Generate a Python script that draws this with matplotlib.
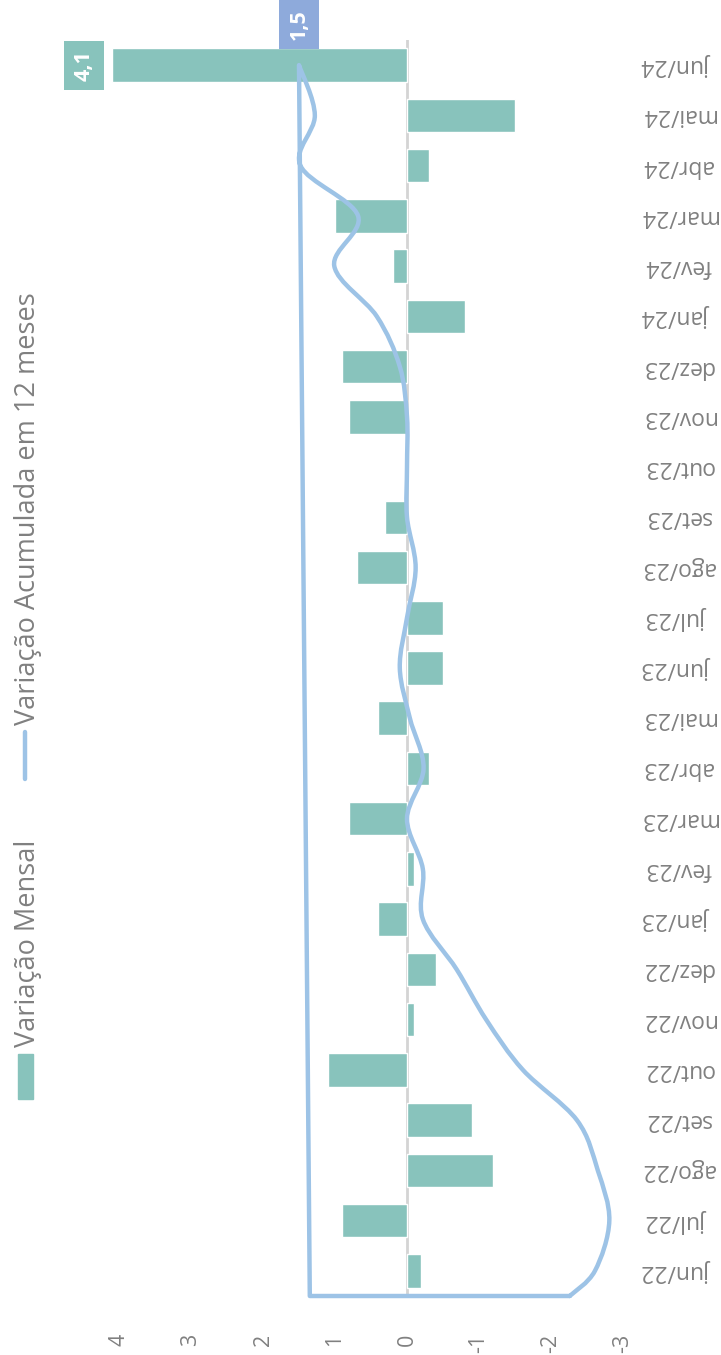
import matplotlib
matplotlib.use("Agg")
import matplotlib.pyplot as plt
import numpy as np
from matplotlib.path import Path
from matplotlib.patches import PathPatch, Rectangle
from matplotlib.lines import Line2D
import matplotlib.transforms as mtransforms

plt.rcParams['font.family'] = ['Open Sans', 'DejaVu Sans']

# dados
meses = ['jun/22', 'jul/22', 'ago/22', 'set/22', 'out/22', 'nov/22', 'dez/22',
         'jan/23', 'fev/23', 'mar/23', 'abr/23', 'mai/23', 'jun/23', 'jul/23',
         'ago/23', 'set/23', 'out/23', 'nov/23', 'dez/23', 'jan/24', 'fev/24',
         'mar/24', 'abr/24', 'mai/24', 'jun/24']
var_mensal = [-0.2, 0.9, -1.2, -0.9, 1.1, -0.1, -0.4, 0.4, -0.1, 0.8, -0.3, 0.4,
              -0.5, -0.5, 0.7, 0.3, 0.0, 0.8, 0.9, -0.8, 0.2, 1.0, -0.3, -1.5, 4.1]
var_acum = [-2.61, -2.81, -2.65, -2.36, -1.61, -1.10, -0.69, -0.22, -0.22, 0.00,
            -0.23, -0.04, 0.10, 0.00, -0.12, 0.00, 0.00, 0.00, 0.10, 0.42, 1.01,
            0.68, 1.48, 1.28, 1.50]
acum_inicio = -2.26   # ponto inicial da linha (borda do grafico)
acum_fecho = 1.35     # ponto de fecho da linha
valores_eixo = [4, 3, 2, 1, 0, -1, -2, -3]
rotulos_eixo = ['4', '3', '2', '1', '0', '-1', '-2', '-3']

cor_barra = '#88c3bc'
cor_linha = '#9dc3e6'
cor_rotulo_linha = '#8eaadb'
cinza = '#808080'

W, H = 721, 1355
fig = plt.figure(figsize=(W / 100, H / 100), dpi=100)
ax = fig.add_axes([119 / W, 1 - 1296 / H, 504 / W, 1256 / H])

pos = np.arange(len(meses))
barras = ax.barh(pos, var_mensal, height=0.667, color=cor_barra,
                 edgecolor='white', linewidth=1, zorder=2)
for b in barras:
    b.set_clip_on(False)
ax.axvline(0, color='#d4d4d4', lw=2, zorder=1)

# linha suavizada (catmull-rom -> bezier)
xs = np.concatenate([[-0.5], pos])
ys = np.concatenate([[acum_inicio], var_acum])
pts = np.column_stack([ys, xs])
verts = [tuple(pts[0])]
codes = [Path.MOVETO]
n = len(pts)
for i in range(n - 1):
    p0 = pts[max(i - 1, 0)]
    p1 = pts[i]
    p2 = pts[i + 1]
    p3 = pts[min(i + 2, n - 1)]
    c1 = p1 + (p2 - p0) / 6
    c2 = p2 - (p3 - p1) / 6
    verts += [tuple(c1), tuple(c2), tuple(p2)]
    codes += [Path.CURVE4] * 3
verts += [(acum_fecho, -0.5), (acum_inicio, -0.5)]
codes += [Path.LINETO, Path.LINETO]
ax.add_patch(PathPatch(Path(verts, codes), fill=False, edgecolor=cor_linha,
                       lw=3.2, capstyle='round', joinstyle='round', zorder=3,
                       clip_on=False))

ax.set_xlim(4, -3)
ax.set_ylim(-0.5, len(meses) - 0.5)
for s in ax.spines.values():
    s.set_visible(False)
ax.set_yticks([])
ax.set_xticks(valores_eixo)
ax.set_xticklabels(rotulos_eixo, rotation=90, color=cinza, fontsize=15.5)
ax.tick_params(axis='x', length=0, pad=27)
for lab in ax.get_xticklabels():
    lab.set_va('top')

# rotulos das categorias (invertidos)
trans = mtransforms.blended_transform_factory(ax.transAxes, ax.transData)
for p, m in zip(pos, meses):
    ax.text((678 - 119) / 504, p, m, transform=trans, rotation=180,
            ha='center', va='center', color=cinza, fontsize=16.5, clip_on=False)

# rotulos de valor
ax.annotate('4,1', xy=(var_mensal[-1], pos[-1]), xytext=(-20, 0),
            textcoords='offset points', rotation=90, ha='center', va='center',
            color='white', fontsize=15.5, fontweight='bold',
            annotation_clip=False,
            bbox=dict(boxstyle='square,pad=0.42', fc=cor_barra, ec='none'))
ax.annotate('1,5', xy=(var_acum[-1], pos[-1]), xytext=(0, 29),
            textcoords='offset points', rotation=90, ha='center', va='center',
            color='white', fontsize=15.5, fontweight='bold',
            annotation_clip=False,
            bbox=dict(boxstyle='square,pad=0.42', fc=cor_rotulo_linha, ec='none'))

# legenda
fig.add_artist(Rectangle((18 / W, 1 - 1099 / H), 15 / W, 45 / H,
                         transform=fig.transFigure, color=cor_barra))
fig.text(28 / W, 1 - 1047 / H, 'Variação Mensal', rotation=90, ha='center',
         va='bottom', color=cinza, fontsize=19.5)
fig.add_artist(Line2D([25 / W, 25 / W], [1 - 779 / H, 1 - 732 / H],
                      transform=fig.transFigure, color=cor_linha, lw=3.2,
                      solid_capstyle='round'))
fig.text(28 / W, 1 - 725 / H, 'Variação Acumulada em 12 meses', rotation=90,
         ha='center', va='bottom', color=cinza, fontsize=19.5)

fig.savefig('out.png', dpi=100)
